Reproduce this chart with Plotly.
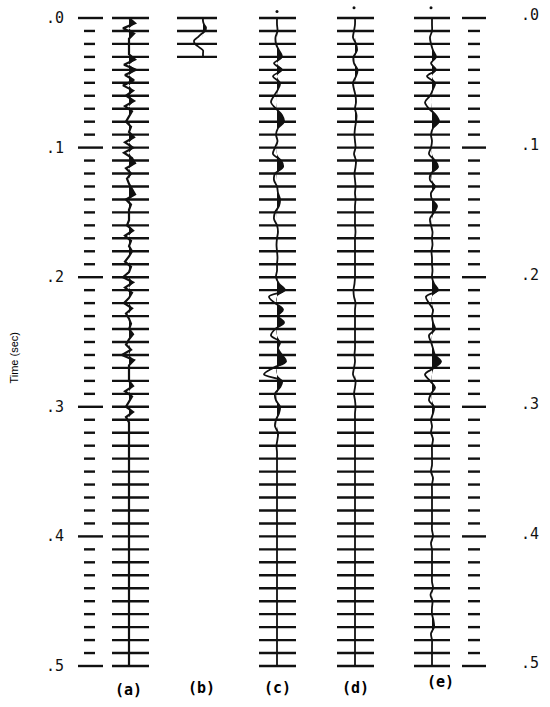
import numpy as np
import plotly.graph_objects as go

# ---------------- data ----------------
tick_labels = [".0", ".1", ".2", ".3", ".4", ".5"]
major_times = [0.0, 0.1, 0.2, 0.3, 0.4, 0.5]
panel_labels = ["(a)", "(b)", "(c)", "(d)", "(e)"]

# (a) reflectivity series, sample interval 0.004 s
dt_a = 0.004
trace_a = [0, 6, -6, 5, 0, 0, 0, 0, 6, -5,
           7, -4, 5, -6, 4, -3, 5, -4, 3, 0,
           -3, 2, 0, 5, -4, 4, -5, 3, 6, -3,
           2, -2, 0, 3, 6, -3, 2, 0, 0, 0,
           -2, 4, -4, 2, 0, 3, 0, -4, 2, 0,
           -6, 4, -4, 3, 0, -5, 3, -3, 0, 2,
           0, 4, 0, -3, 2, -7, 5, 0, 0, 0,
           0, 4, -4, 3, 0, -3, 4, -3, 0, 0,
           0, 0, 0, 0, 0, 0, 0, 0, 0, 0,
           0, 0, 0, 0, 0, 0, 0, 0, 0, 0,
           0, 0, 0, 0, 0, 0, 0, 0, 0, 0,
           0, 0, 0, 0, 0, 0, 0, 0, 0, 0,
           0, 0, 0, 0, 0, 0]

# (b) wavelet, sample interval 0.0025 s
dt_b = 0.0025
trace_b = [0, 0, 1, 3, 2, -2, -5.5, -9, -8, -4, 0, 0, 0]

# (c), (d), (e) seismograms, sample interval 0.005 s
dt_cde = 0.005
trace_c = [0, 0, 0.5, -1.5, -1, 2, 5, -3, 5, -4,
           3, 1, -3, -6, -1, 5, 7, 1, -1, 0.5,
           -2, -4, 4, 6, -2, -3, 0, 1, 3, 2,
           -2, -3, 0, 1, 0, -0.5, 0, 0.5, 0, 0,
           -1, 2, 8, -8, -2, 6, 1, 7, -2, -6,
           3, 1, 5, 9, -4, -13, 5, 3, -2, -1,
           3, 2, -1, -2, 1, 0.5, -0.5, 0, 0, 0,
           0, 0, 0, 0, 0, 0, 0, 0, 0, 0,
           0, 0, 0, 0, 0, 0, 0, 0, 0, 0,
           0, 0, 0, 0, 0, 0, 0, 0, 0, 0, 0]
trace_d = [0, 0, -1, -2, 1, 2, -1.5, -1, 2.5, 1,
           -2, -1, 0.5, 1, 0, 1.5, 1, 0, -0.5, 0,
           0.5, -1, 1, 0.5, -0.5, 0, 0.5, 0, 0.5, 0,
           0, 0, 0, 0.5, 0, 0, 0, 0, 0, 0,
           0, -0.5, -1.5, -1, 0.5, 0, 0, 0, 0, 0,
           0, 0, -0.5, 0, -1, -2, 0.5, 0, -1, 0,
           0.5, 0, 0, 0, 0, 0, 0, 0, 0, 0,
           0, 0, 0, 0, 0, 0, 0, 0, 0, 0,
           0, 0, 0, 0, 0, 0, 0, 0, 0, 0,
           0, 0, 0, 0, 0, 0, 0, 0, 0, 0, 0]
trace_e = [0, 0, 0, -2, -1, 1, 4, -1, 4, -5,
           3, 1, -2, -7, -3, 4, 7, 1, -1, 0,
           -1, -3, 3, 6, -1, -2, 3, -1, 0, 5,
           2, -2, -1, 0.5, 0, 0.5, -0.5, 0, 0, 0.5,
           0, 2, 6, -6, -3, 1, 0, 1, 3, -3,
           -1, 1, 3, 9, 2, -7, -2, 3, -1, -3,
           2, 1, -1, 0, -1, 1, 0, 0, 0, 0,
           -1, 1, 0, 0, 0, 0, 0, 0, 0, 0,
           1, -1, 0, 0, 0, 0, 0, 0, 1, -1.5,
           0.5, 0, 0, 1.5, 2, -1, 0, 0, 0, 0, 0]

# ---------------- layout constants ----------------
W, H = 550, 707
PX_PER_S = 1296.0
T_TOP = -18 / PX_PER_S
T_BOT = T_TOP + H / PX_PER_S

col_x = {"a": 129, "b": 203, "c": 277, "d": 355, "e": 432}
line_cx = {"a": 130.5, "b": 197, "c": 277.5, "d": 355.5, "e": 432}
line_hw = {"a": 18.5, "b": 20, "c": 18.5, "d": 18.5, "e": 18}
line_tmax = {"a": 0.5, "b": 0.03, "c": 0.5, "d": 0.5, "e": 0.5}
wig_w = {"a": 2.2, "b": 1.8, "c": 1.8, "d": 1.8, "e": 1.8}

traces = {
    "a": (trace_a, dt_a, False),
    "b": (trace_b, dt_b, True),
    "c": (trace_c, dt_cde, True),
    "d": (trace_d, dt_cde, True),
    "e": (trace_e, dt_cde, True),
}

fig = go.Figure()
INK = "#111111"

# timing lines
for k in ["a", "b", "c", "d", "e"]:
    xs, ys = [], []
    n = int(round(line_tmax[k] / 0.01))
    for i in range(n + 1):
        t = i * 0.01
        xs += [line_cx[k] - line_hw[k], line_cx[k] + line_hw[k], None]
        ys += [t, t, None]
    fig.add_trace(go.Scatter(x=xs, y=ys, mode="lines",
                             line=dict(color=INK, width=2.4),
                             hoverinfo="skip", showlegend=False))

# time scales (left & right)
for (x_long, x_short) in [((78, 103), (84, 95)), ((462, 486), (468, 480))]:
    xs, ys = [], []
    for i in range(51):
        t = i * 0.01
        if i % 10 == 0:
            xs += [x_long[0], x_long[1], None]
        else:
            xs += [x_short[0], x_short[1], None]
        ys += [t, t, None]
    fig.add_trace(go.Scatter(x=xs, y=ys, mode="lines",
                             line=dict(color=INK, width=2.4),
                             hoverinfo="skip", showlegend=False))

# wiggle traces with positive variable-area fill
for k, (vals, dt, smooth) in traces.items():
    amp = np.array(vals, dtype=float)
    t = np.arange(len(amp)) * dt
    cx = col_x[k]
    shape = "spline" if smooth else "linear"
    fig.add_trace(go.Scatter(x=np.full(len(t), cx), y=t, mode="lines",
                             line=dict(width=0, color=INK),
                             hoverinfo="skip", showlegend=False))
    fig.add_trace(go.Scatter(x=cx + np.clip(amp, 0, None), y=t, mode="lines",
                             line=dict(width=0, color=INK, shape=shape),
                             fill="tonextx", fillcolor=INK,
                             hoverinfo="skip", showlegend=False))
    fig.add_trace(go.Scatter(x=cx + amp, y=t, mode="lines",
                             line=dict(width=wig_w[k], color=INK, shape=shape),
                             hoverinfo="skip", showlegend=False))

# small start dots above traces c, d, e
fig.add_trace(go.Scatter(x=[col_x["c"], col_x["d"] - 1, col_x["e"] - 1],
                         y=[-0.005, -0.008, -0.008], mode="markers",
                         marker=dict(color=INK, size=3),
                         hoverinfo="skip", showlegend=False))

# tick labels
fnt = dict(family="DejaVu Sans Mono", size=15, color=INK)
for lab, t in zip(tick_labels, major_times):
    fig.add_annotation(x=55, y=t, text=lab, showarrow=False, font=fnt,
                       xanchor="center", yanchor="middle")
    fig.add_annotation(x=530, y=t - 0.002, text=lab, showarrow=False, font=fnt,
                       xanchor="center", yanchor="middle")

# panel labels
lab_x = [128, 201, 277, 355, 440]
lab_t = [0.5185, 0.517, 0.517, 0.517, 0.5125]
for lab, x, t in zip(panel_labels, lab_x, lab_t):
    fig.add_annotation(x=x, y=t, text="<b>" + lab + "</b>", showarrow=False,
                       font=dict(family="DejaVu Sans Mono", size=15, color="black"),
                       xanchor="center", yanchor="middle")

# axis title
fig.add_annotation(x=14, y=0.262, text="Time (sec)", showarrow=False, textangle=-90,
                   font=dict(family="Liberation Sans", size=11, color="black"),
                   xanchor="center", yanchor="middle")

fig.update_layout(
    width=W, height=H,
    margin=dict(l=0, r=0, t=0, b=0),
    paper_bgcolor="white", plot_bgcolor="white",
    xaxis=dict(range=[0, W], visible=False, fixedrange=True),
    yaxis=dict(range=[T_BOT, T_TOP], visible=False, fixedrange=True),
    showlegend=False,
)

fig.write_html("out.html", config={"displayModeBar": False},
               post_script="document.body.style.margin='0';document.body.style.overflow='hidden';")
